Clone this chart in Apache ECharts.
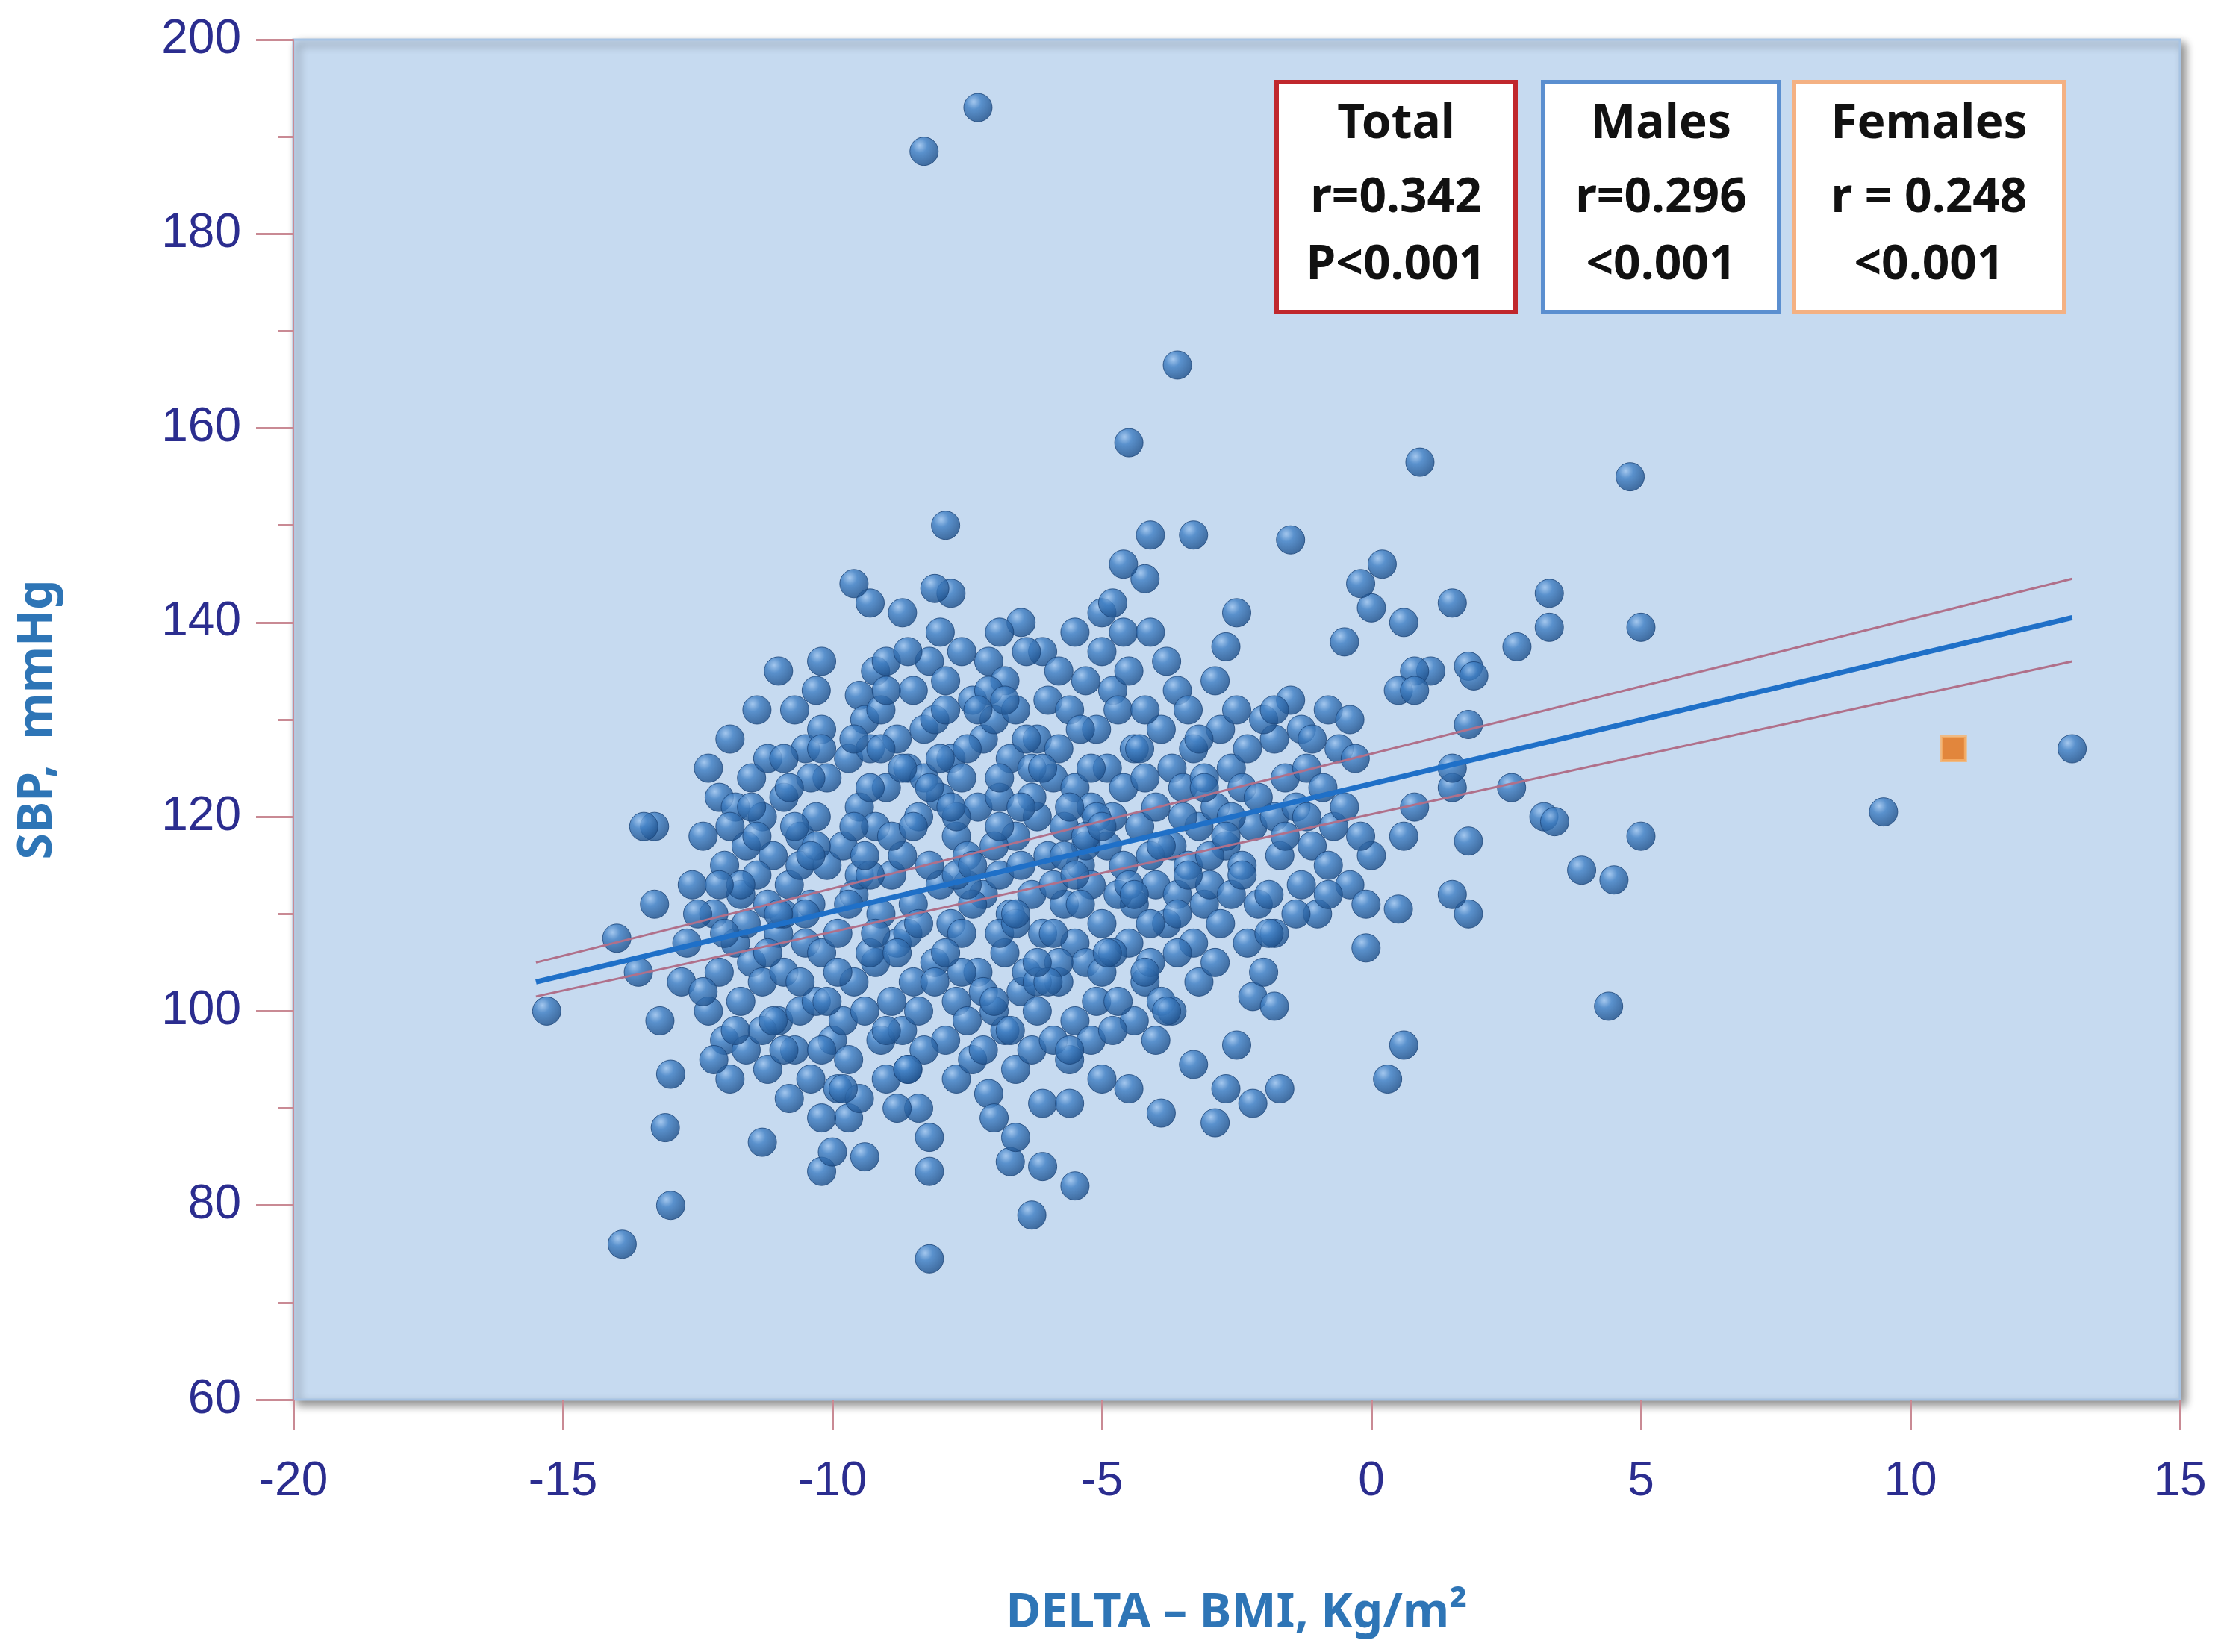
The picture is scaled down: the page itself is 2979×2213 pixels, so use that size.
<!DOCTYPE html>
<html><head><meta charset="utf-8">
<script src="https://cdn.jsdelivr.net/npm/echarts@6/dist/echarts.min.js"></script>
<style>html,body{margin:0;padding:0;background:#fff}#c{width:2979px;height:2213px}</style>
</head><body><div id="c"></div>
<script>
const xTicks = [-20,-15,-10,-5,0,5,10,15];
const yTicks = [60,80,100,120,140,160,180,200];
const pointsX = [-15.3,-13.9,-13,-13.1,-13.3,-13.5,-14,-13.6,-13.3,-13.2,-13,-8.3,-7.3,-3.6,-4.5,-7.9,-8.2,-6.3,-5.5,0.9,4.8,5,3.3,3.3,2.7,1.5,9.5,13,3.2,3.4,3.9,4.5,5,4.4,2.6,1.8,1.8,1.5,1.5,1.5,1.8,1.8,1.9,1.1,0.6,0.8,0.5,0.8,0.6,0.8,0.5,0.6,0.3,0,-0.1,0,0.2,-0.2,-0.5,-1.5,-3.3,-4.1,-4.2,-4.6,-5,-6.5,-7.8,-8.1,-9.3,-9.6,-8.7,-11,-9.5,-2.5,-2.7,-3.9,-2.9,-2.5,-2.2,-1.7,-2.7,-2.2,-1.8,-3.3,-4.5,-5,-7.1,-7,-6.7,-6.1,-6.1,-5.6,-6.6,-8.2,-8.2,-9.4,-10.2,-10,-11.3,-8.4,-9.7,-10.2,
-12.3,-12.1,-12.4,-12,-12.2,-12.5,-11.8,-12.1,-12.3,-12,-11.9,-11.6,-11.7,-11.5,-11.7,-11.6,-11.8,-11.5,-11.2,-11.3,-11.1,-11.2,-11,-11.3,-11,-11.2,-10.8,-10.7,-10.6,-10.9,-10.5,-10.8,-10.6,-10.9,-10.5,-10.7,-10.3,-10.2,-10.1,-10.3,-10.1,-10.4,-10.2,-10.3,-10,-10.4,-9.9,-9.7,-9.8,-9.6,-9.9,-9.6,-9.8,-9.5,-9.7,-9.4,-9.2,-9,-9.1,-9.3,-9,-9.2,-8.9,-9.1,-9.2,-8.9,-9.1,-9,-8.8,-8.6,-8.7,-8.5,-8.8,-8.5,-8.7,-8.4,-8.6,-8.3,-8.5,-8.2,-8,-7.9,-8.1,-7.8,-8,-7.7,-8,-7.8,-8.1,-7.7,-7.9,-7.7,-7.4,-7.5,-7.3,-7.6,-7.2,-7.5,-7.3,-7.6,-7.2,-7.4,-7.1,-6.9,-6.8,-7,-6.7,-6.9,-6.6,-6.9,-6.7,-6.8,-6.5,-6.8,-6.6,-6.3,-6.2,-6.4,-6.1,-6.3,-6,-6.2,-5.9,-6.2,-6,-6.1,-5.8,-5.6,-5.8,-5.5,-5.7,-5.4,-5.7,-5.5,-5.8,-5.5,-5.6,-5.2,-5.1,-5.3,-5,-5.2,-4.9,-5.2,-4.9,-5.1,-4.8,-5,-4.6,-4.5,-4.7,-4.4,-4.6,-4.3,-4.6,-4.4,-4.5,-4.2,-4.4,-4,-3.9,-4.1,-3.8,-4,-3.7,-4,-3.7,-3.9,-3.6,-3.8,-3.4,-3.3,-3.5,-3.2,-3.4,-3.1,-3.3,-3.2,-2.9,-2.8,-3,-2.7,-2.9,-2.6,-2.8,-2.5,-2.3,-2.4,-2.2,-2.4,-2.1,-2.3,-2,-1.8,-1.9,-1.7,-1.8,-1.6,-1.8,-1.5,-1.3,-1.2,-1.4,-1.1,-1.3,-1,-0.8,-0.7,-0.9,-0.6,-0.8,-0.4,-0.3,-0.5,-0.2,-0.4,-0.1,
-11.9,-11.4,-11.6,-11.3,-10.9,-10.4,-10.6,-10.9,-10.6,-10.2,-9.5,-9.4,-9.3,-9.5,-9.3,-9.6,-9,-8.8,-8.9,-8.6,-8.4,-8.3,-8.2,-8.3,-7.9,-7.6,-7.5,-7.7,-7.4,-7.6,-7.2,-7,-6.9,-7,-6.9,-6.6,-6.4,-6.4,-6.3,-6.5,-6.6,-6.2,-5.9,-5.8,-5.9,-5.6,-5.4,-5.3,-5.2,-5.3,-5,-4.8,-4.7,-4.8,-4.2,-4.2,-4.1,-3.6,-3.6,-3.5,-3.1,-3,-2.6,-2.6,-2.1,-2,-1.6,-1.4,-1.1,-0.8,-12.6,-12.7,-12.8,-12.2,-11.9,-11.4,-10.2,-8.6,-7.1,-5.5,-4.8,-4.1,-2.9,-1.8,-1.2,
-12.4,-12.0,-11.7,-11.4,-11.1,-10.8,-10.5,-10.2,-9.9,-9.6,-9.3,-9.0,-8.7,-8.4,-8.1,-7.8,-7.5,-7.2,-6.9,-6.6,-6.3,-6.0,-5.7,-5.4,-5.1,-4.8,-4.5,-4.2,-3.9,-3.6,-11.8,-11.2,-10.7,-10.1,-9.4,-8.8,-8.2,-7.7,-7.0,-6.5,-5.9,-5.3,-4.7,-4.1,-3.4,-2.7,-12.1,-11.5,-10.9,-10.3,-9.7,-9.1,-8.5,-7.9,-7.3,-6.7,-6.1,-5.5,-4.9,-4.3,-3.7,-3.1,-11.0,-10.4,-9.8,-9.2,-8.6,-8.0,-7.4,-6.8,-6.2,-5.6,-5.0,-4.4,-3.8,-3.2,-2.4,-1.9];
const pointsY = [100,76,80,88,119,119,107.5,104,111,99,93.5,188.5,193,166.5,158.5,150,74.5,79,82,156.5,155,139.5,143,139.5,137.5,142,120.5,127,120,119.5,114.5,113.5,118,100.5,123,117.5,110,112,123,125,129.5,135.5,134.5,135,140,135,133,133,118,121,110.5,96.5,93,116,106.5,141.5,146,144,138,148.5,149,149,144.5,146,141,140,143,143.5,142,144,141,135,132.5,141,137.5,89.5,88.5,96.5,90.5,92,92,101.5,100.5,94.5,92,93,91.5,89,84.5,84,90.5,90.5,87,83.5,87,85,83.5,85.5,86.5,90,89,89,
125,122,118,115,110,110,107,104,100,97,93,96,101,105,112,117,121,124,126,120,116,111,108,103,99,94,91,96,100,104,107,113,118,122,127,131,133,129,124,120,115,111,106,101,97,93,92,95,99,103,108,112,117,121,126,130,135,136,131,127,123,119,114,110,105,101,97,93,90,94,98,103,107,111,116,120,125,129,133,136,139,134,130,126,122,118,113,109,105,101,97,93,95,99,104,108,112,116,121,124,128,132,136,139,134,130,126,122,118,114,110,106,102,98,94,96,100,104,108,112,116,120,124,128,132,137,135,131,127,123,119,115,111,107,103,99,95,97,101,105,109,113,117,121,125,129,133,137,139,135,131,127,123,119,115,111,107,103,99,97,101,105,109,113,117,121,125,129,133,136,131,127,123,119,115,111,107,103,105,109,113,117,121,125,129,131,127,123,119,115,111,107,104,108,112,116,120,124,128,132,129,125,121,117,113,110,115,119,123,127,131,130,126,121,118,113,111,
119,114,109,98,126,124,115,110,103,96,91,100,106,114,123,128,133,128,118,108,100,96,115,124,131,137,127,120,111,104,96,100,108,117,124,131,137,128,122,115,109,103,97,105,113,121,129,134,125,117,104,98,112,120,131,124,116,106,112,120,124,116,112,120,122,130,118,110,128,112,113,107,103,95,128,131,136,137,133,139,142,139,134,131,120,
102,108,113,118,99,123,110,127,104,119,114,98,125,109,103,121,113,102,119,110,125,103,116,111,120,106,113,104,117,110,98,106,119,101,116,106,123,114,101,121,108,118,101,109,114,118,113,121,96,117,111,127,119,106,131,98,125,114,106,127,100,123,110,116,92,108,94,126,115,132,105,96,119,112,100,128,114,108];
const femaleX = [10.8], femaleY = [127];
const fitX = [-15.5, 13], fitY = [103, 140.5];
const ciUpperY = [105, 144.5], ciLowerY = [101.5, 136];

const scatter = pointsX.map((x,i)=>[x,pointsY[i]]);
const chart = echarts.init(document.getElementById('c'));
const ball = new echarts.graphic.RadialGradient(0.35,0.3,0.75,[{offset:0,color:'#9cc3ee'},{offset:0.35,color:'#3f7fc4'},{offset:1,color:'#1b4c86'}]);
const boxes = [
 {x:1710,w:320,c:'#c0272d',t:['Total','r=0.342','P<0.001']},
 {x:2067,w:316,c:'#5b8fd0',t:['Males','r=0.296','<0.001']},
 {x:2403,w:362,c:'#f4b183',t:['Females','r = 0.248','<0.001']}];
const graphics = [];
boxes.forEach(b=>{
  graphics.push({type:'rect',shape:{x:b.x,y:110,width:b.w,height:308},style:{fill:'#fff',stroke:b.c,lineWidth:6},z:10});
  b.t.forEach((s,i)=>graphics.push({type:'text',x:b.x+b.w/2,y:[167,266,356][i],style:{text:s,fill:'#111',font:'bold 64px "Noto Sans"',textAlign:'center',textVerticalAlign:'middle'},z:11}));
});
chart.setOption({
  animation:false,
  grid:{left:393,right:59,top:53,bottom:338,show:true,backgroundColor:'#c6daf0',borderColor:'#a8c4e4',borderWidth:3,shadowColor:'rgba(0,0,0,0.45)',shadowBlur:12,shadowOffsetX:6,shadowOffsetY:6},
  xAxis:{type:'value',min:xTicks[0],max:xTicks[xTicks.length-1],interval:5,
    name:'DELTA – BMI, Kg/m²',nameLocation:'middle',nameGap:255,
    nameTextStyle:{color:'#2e75b6',fontSize:64,fontWeight:'bold',fontFamily:'Noto Sans'},
    axisLine:{show:false},axisTick:{show:true,length:40,lineStyle:{color:'#c98a94',width:3}},
    axisLabel:{color:'#2b2d8f',fontSize:64,margin:78,fontFamily:'Liberation Sans'},splitLine:{show:false}},
  yAxis:{type:'value',min:yTicks[0],max:yTicks[yTicks.length-1],interval:20,
    name:'SBP,  mmHg',nameLocation:'middle',nameGap:310,
    nameTextStyle:{color:'#2e75b6',fontSize:64,fontWeight:'bold',fontFamily:'Noto Sans'},
    axisLine:{show:true,onZero:false,lineStyle:{color:'#c98a94',width:2}},
    axisTick:{show:true,length:50,lineStyle:{color:'#c98a94',width:3}},
    minorTick:{show:true,splitNumber:2,length:20,lineStyle:{color:'#c98a94',width:3}},
    axisLabel:{color:'#2b2d8f',fontSize:64,margin:70,fontFamily:'Liberation Sans'},splitLine:{show:false}},
  series:[
    {type:'scatter',data:scatter,symbolSize:38,itemStyle:{color:ball,borderColor:'#1a4478',borderWidth:1},z:3},
    {type:'line',data:fitX.map((x,i)=>[x,ciUpperY[i]]),symbol:'none',lineStyle:{color:'#b0708a',width:3},z:4},
    {type:'line',data:fitX.map((x,i)=>[x,ciLowerY[i]]),symbol:'none',lineStyle:{color:'#b0708a',width:3},z:4},
    {type:'line',data:fitX.map((x,i)=>[x,fitY[i]]),symbol:'none',lineStyle:{color:'#1f70c8',width:7},z:5},
    {type:'scatter',data:femaleX.map((x,i)=>[x,femaleY[i]]),symbol:'rect',symbolSize:32,itemStyle:{color:'#e8700f',borderColor:'#f7b26a',borderWidth:4},z:6}
  ],
  graphic:graphics
});
</script></body></html>
